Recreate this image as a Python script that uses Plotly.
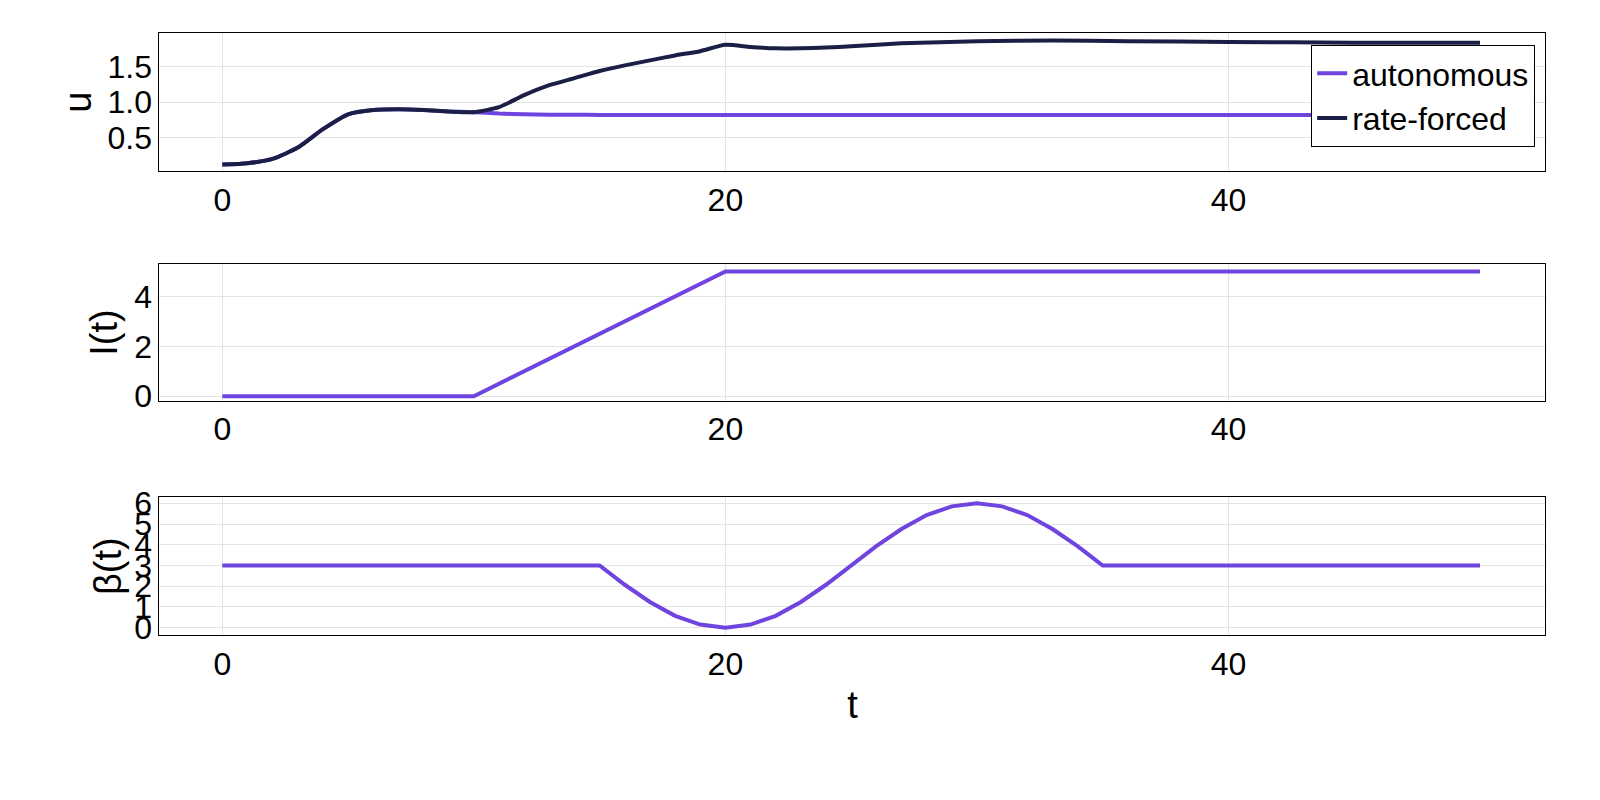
import plotly.graph_objects as go
from plotly.subplots import make_subplots

# u(t)
t_u = [0, 1, 2, 3, 4, 5, 6, 7, 8, 9, 10, 11, 12, 13, 14, 15, 16, 17, 18, 19, 20,
       21, 22, 23, 24, 25, 27, 30, 33, 36, 40, 45, 50]
u_auto = [0.12, 0.14, 0.2, 0.36, 0.62, 0.83, 0.89, 0.9, 0.89, 0.87, 0.86, 0.84, 0.83, 0.825, 0.825, 0.82,
          0.82, 0.82, 0.82, 0.82, 0.82, 0.82, 0.82, 0.82, 0.82, 0.82, 0.82, 0.82, 0.82, 0.82, 0.82, 0.82, 0.82]
u_forced = [0.12, 0.14, 0.2, 0.36, 0.62, 0.83, 0.89, 0.9, 0.89, 0.87, 0.86, 0.93, 1.1, 1.24, 1.34, 1.44,
            1.52, 1.59, 1.66, 1.72, 1.81, 1.78, 1.76, 1.76, 1.77, 1.79, 1.83, 1.86, 1.87, 1.86, 1.85, 1.84, 1.84]

# I(t)
t_I = [0, 10, 20, 50]
I_vals = [0, 0, 5, 5]

# beta(t)
t_b = [0, 15, 16, 17, 18, 19, 20, 21, 22, 23, 24, 25, 26, 27, 28, 29, 30,
       31, 32, 33, 34, 35, 50]
b_vals = [3, 3, 2.07, 1.24, 0.57, 0.15, 0, 0.15, 0.57, 1.24, 2.07, 3, 3.93, 4.76, 5.43, 5.85, 6,
          5.85, 5.43, 4.76, 3.93, 3, 3]

PURPLE = "#6f45e0"
NAVY = "#1b1f45"

fig = make_subplots(rows=3, cols=1)

fig.add_trace(go.Scatter(x=t_u, y=u_auto, mode='lines', name='autonomous',
                         line=dict(color=PURPLE, width=4, shape='spline', smoothing=0.6)), row=1, col=1)
fig.add_trace(go.Scatter(x=t_u, y=u_forced, mode='lines', name='rate-forced',
                         line=dict(color=NAVY, width=4, shape='spline', smoothing=0.6)), row=1, col=1)
fig.add_trace(go.Scatter(x=t_I, y=I_vals, mode='lines', showlegend=False,
                         line=dict(color=PURPLE, width=4)), row=2, col=1)
fig.add_trace(go.Scatter(x=t_b, y=b_vals, mode='lines', showlegend=False,
                         line=dict(color=PURPLE, width=4)), row=3, col=1)

doms = [[0.8, 0.981], [0.4975, 0.6775], [0.189, 0.371]]
for i in range(3):
    fig.update_xaxes(domain=[0.0956, 0.9706], range=[-2.5, 52.6], tickvals=[0, 20, 40],
                     showgrid=True, gridcolor='#e4e4e4', zeroline=False,
                     showline=True, mirror=True, linecolor='black', linewidth=1.2,
                     ticks='', row=i + 1, col=1)
    fig.update_yaxes(domain=doms[i], showgrid=True, gridcolor='#e4e4e4', zeroline=False,
                     showline=True, mirror=True, linecolor='black', linewidth=1.2,
                     ticks='', row=i + 1, col=1)

fig.update_yaxes(range=[0.03, 1.97], tickvals=[0.5, 1.0, 1.5], ticktext=['0.5', '1.0', '1.5'],
                 title_text='u', title_standoff=4, row=1, col=1)
fig.update_yaxes(range=[-0.19, 5.3], tickvals=[0, 2, 4], title_text='I(t)', title_standoff=4, row=2, col=1)
fig.update_yaxes(range=[-0.37, 6.3], tickvals=[0, 1, 2, 3, 4, 5, 6], title_text='β(t)',
                 title_standoff=0, row=3, col=1)
fig.update_xaxes(title_text='t', title_standoff=10, row=3, col=1)

fig.update_layout(
    margin=dict(l=0, r=0, t=0, b=0),
    plot_bgcolor='white', paper_bgcolor='white',
    font=dict(family='Liberation Sans, Arial', size=32, color='black'),
    legend=dict(x=0.964, y=0.966, xanchor='right', yanchor='top',
                bordercolor='black', borderwidth=1.2, bgcolor='white',
                font=dict(size=32)),
    showlegend=True)

fig.write_html("out.html")
